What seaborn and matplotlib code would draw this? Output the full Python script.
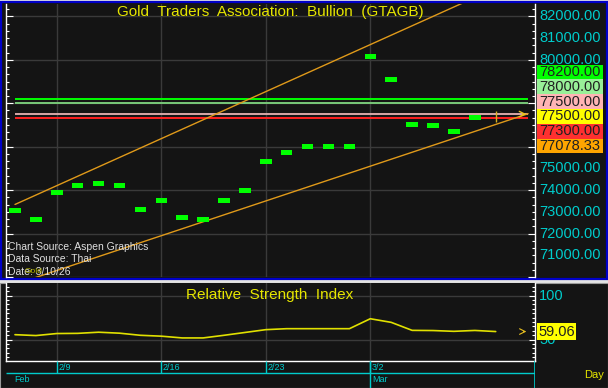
import numpy as np
import matplotlib
matplotlib.use("Agg")
import matplotlib.pyplot as plt
from matplotlib.patches import Rectangle
from matplotlib.ticker import MultipleLocator, FixedLocator
import seaborn as sns

# trading days on the chart, 2/5 .. 3/10
dates = ["2/5", "2/6", "2/9", "2/10", "2/11", "2/12", "2/13",
         "2/16", "2/17", "2/18", "2/19", "2/20",
         "2/23", "2/24", "2/25", "2/26", "2/27",
         "3/2", "3/3", "3/4", "3/5", "3/6", "3/9", "3/10"]
closes = [73080, 72670, 73900, 74210, 74300, 74210, 73090,
          73500, 72740, 72670, 73500, 74000,
          75320, 75720, 76030, 75990, 75990,
          80150, 79100, 77030, 76990, 76690, 77360]
today_low, today_high, today_last = 77120, 77640, 77500

rsi = [55.5, 54.5, 56.8, 57.0, 58.3, 57.2, 54.8,
       53.8, 51.8, 51.8, 54.8, 58.0,
       61.2, 62.3, 62.3, 62.3, 62.3,
       73.6, 69.5, 60.4, 60.2, 59.3, 60.3, 59.06]
rsi_last = 59.06

# trend channel: day index -> price
channel_x = [0, 24.55]
channel_upper = [73340, 83970]
channel_lower = [69660, 77520]

levels = [78200, 78000, 77500, 77300]
level_colors = ["#00ff00", "#78c878", "#d8a8a8", "#ff2020"]

box_values = [78200, 78000, 77500, 77500, 77300, 77078.33]
box_colors = ["#00ff00", "#98f098", "#ffb4b4", "#ffff00", "#ff3030", "#ffa500"]

# scale labels that are not hidden behind the boxes
price_ticks = [82000, 81000, 80000, 75000, 74000, 73000, 72000, 71000]
week_labels = ["2/9", "2/16", "2/23", "3/2"]
month_labels = {"Feb": "2/5", "Mar": "3/2"}

W, H = 608, 388
BG = "#141414"
CYAN = "#00cccc"
YELLOW = "#e6e600"
GRID = "#3a3a3a"


def fx(px):
    return px / W


def fy(py):
    return 1 - py / H


sns.set_style("dark")
plt.rcParams["font.family"] = ["Liberation Sans", "DejaVu Sans"]

fig = plt.figure(figsize=(W / 100, H / 100), dpi=100, facecolor="#e4e4e4")

# panel backgrounds
fig.patches.append(Rectangle((fx(1), fy(279)), 606 / W, 277 / H, transform=fig.transFigure,
                             fc=BG, ec="#0000c8", lw=1.6, zorder=-10))
fig.patches.append(Rectangle((fx(0), fy(388)), 1, 105 / H, transform=fig.transFigure,
                             fc=BG, ec="#9a9a9a", lw=0.8, zorder=-10))

days = np.arange(len(dates))
week_idx = [dates.index(d) for d in week_labels]
xlim = (-0.43, 24.88)

# ---- main price panel ----
ax = fig.add_axes([fx(6), fy(277), 529 / W, 273 / H])
ax.set_facecolor(BG)
ax.set_xlim(*xlim)
ax.set_ylim(70000, 82570)
ax.xaxis.set_major_locator(FixedLocator(week_idx))
ax.yaxis.set_major_locator(MultipleLocator(2000))
ax.yaxis.set_minor_locator(MultipleLocator(1000 / 3))
ax.grid(True, which="major", color=GRID, lw=1)
ax.tick_params(axis="x", length=0, labelbottom=False)
ax.tick_params(axis="y", which="both", left=True, right=True, direction="in",
               colors="white", labelleft=False, labelright=False, width=0.8)
ax.tick_params(axis="y", which="major", length=5)
ax.tick_params(axis="y", which="minor", length=2.5)
for s in ["top", "bottom"]:
    ax.spines[s].set_visible(False)
for s in ["left", "right"]:
    ax.spines[s].set_color("white")
    ax.spines[s].set_linewidth(1)

for lv, c in zip(levels, level_colors):
    ax.hlines(lv, 0, channel_x[1], color=c, lw=1.4, zorder=2)

sns.lineplot(x=channel_x, y=channel_upper, ax=ax, color="#e09a1a", lw=1, zorder=3)
sns.lineplot(x=channel_x, y=channel_lower, ax=ax, color="#e09a1a", lw=1, zorder=3)

ax.bar(days[:len(closes)], 230, bottom=np.array(closes) - 115, width=0.55,
       color="#00ff00", edgecolor="none", linewidth=0, zorder=4)
ax.vlines(len(closes), today_low, today_high, color="#d8b020", lw=1, zorder=4)
ax.annotate("", xy=(24.6, today_last), xytext=(24.15, today_last),
            arrowprops=dict(arrowstyle="->", color="#e8c020", lw=1), zorder=5)

ax.text(0.499, 0.969, "Gold  Traders  Association:  Bullion  (GTAGB)", transform=ax.transAxes,
        ha="center", va="center", color=YELLOW, fontsize=11)

foot = ["Chart Source: Aspen Graphics", "Data Source: Thai", "Date: 3/10/26"]
for k, t in enumerate(foot):
    ax.text(0.004, (277 - (247 + 12.3 * k)) / 273, t, transform=ax.transAxes,
            color="#e0e0e0", fontsize=7.5, va="center", ha="left")
ax.text(0.035, (277 - 271.5) / 273, "Gold", transform=ax.transAxes,
        color="#b8b800", fontsize=6, va="center", ha="left")

for v in price_ticks:
    ax.text((539 - 6) / 529, v, f"{v:.2f}", transform=ax.get_yaxis_transform(),
            color=CYAN, fontsize=10.5, va="center", ha="left", clip_on=False)

# stacked price boxes on the right scale
for k, (v, c) in enumerate(zip(box_values, box_colors)):
    cy = 72 + 14.8 * k
    fig.patches.append(Rectangle((fx(537), fy(cy + 7.4)), 66 / W, 14.8 / H,
                                 transform=fig.transFigure, fc=c, ec="none", zorder=5))
    fig.text(fx(570), fy(cy), f"{v:.2f}", color="#202020", fontsize=10.5,
             ha="center", va="center", zorder=6)

# ---- RSI panel ----
ax2 = fig.add_axes([fx(6), fy(361), 529 / W, 78 / H])
ax2.set_facecolor(BG)
ax2.set_xlim(*xlim)
ax2.set_ylim(25.6, 114.2)
ax2.xaxis.set_major_locator(FixedLocator(week_idx))
ax2.yaxis.set_major_locator(FixedLocator([50, 100]))
ax2.yaxis.set_minor_locator(MultipleLocator(5))
ax2.grid(True, which="major", color=GRID, lw=1)
ax2.tick_params(axis="x", length=0, labelbottom=False)
ax2.tick_params(axis="y", which="both", left=True, right=True, direction="in",
                colors="white", labelleft=False, labelright=False, width=0.8)
ax2.tick_params(axis="y", which="major", length=4)
ax2.tick_params(axis="y", which="minor", length=2.5)
ax2.spines["top"].set_visible(False)
for s in ["left", "right", "bottom"]:
    ax2.spines[s].set_color("white")
    ax2.spines[s].set_linewidth(1)

sns.lineplot(x=days, y=rsi, ax=ax2, color="#e0e000", lw=1.2)
ax2.set_xlabel("")
ax2.set_ylabel("")
ax2.annotate("", xy=(24.6, rsi_last), xytext=(24.2, rsi_last),
             arrowprops=dict(arrowstyle="->", color="#e8c020", lw=0.8))
ax2.text(0.499, (361 - 295) / 78, "Relative  Strength  Index", transform=ax2.transAxes,
         ha="center", va="center", color=YELLOW, fontsize=11)
for v in [100, 50]:
    ax2.text((539 - 6) / 529, v, str(v), transform=ax2.get_yaxis_transform(),
             color=CYAN, fontsize=10.5, va="center", ha="left", clip_on=False)
ax2.text((538 - 6) / 529, rsi_last, f"{rsi_last:.2f}", transform=ax2.get_yaxis_transform(),
         color="#202020", fontsize=10.5, va="center", ha="left", clip_on=False,
         bbox=dict(boxstyle="square,pad=0.08", fc="#ffff00", ec="none"))

# ---- date axis ----
ax3 = fig.add_axes([fx(6), fy(388), 529 / W, 27 / H])
ax3.set_facecolor(BG)
ax3.set_xlim(*xlim)
ax3.set_ylim(27, 0)
ax3.axis("off")
ax3.hlines(12, xlim[0], xlim[1], color=CYAN, lw=1)
ax3.vlines(week_idx, 0, 12, color=CYAN, lw=1)
ax3.vlines(dates.index("3/2"), 0, 27, color=CYAN, lw=1)
ax3.vlines(xlim[1], 0, 27, color=CYAN, lw=1.2)
for lab, i in zip(week_labels, week_idx):
    ax3.text(i + 0.08, 6.5, lab, color=CYAN, fontsize=6.5, va="center", ha="left")
for lab, d in month_labels.items():
    i = dates.index(d)
    ax3.text(i + (0.08 if lab == "Mar" else -0.05), 18.5, lab, color=CYAN, fontsize=6.5,
             va="center", ha="left")

fig.text(fx(584), fy(375), "Day", color=YELLOW, fontsize=8, ha="left", va="center")

fig.savefig("out.png", dpi=100, facecolor=fig.get_facecolor())
